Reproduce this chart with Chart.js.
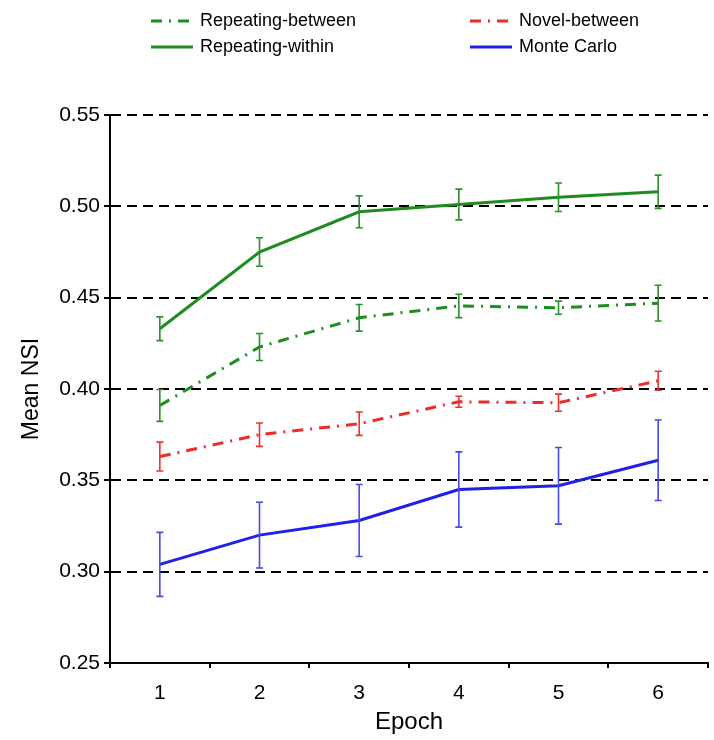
<!DOCTYPE html>
<html>
<head>
<meta charset="utf-8">
<script src="https://cdn.jsdelivr.net/npm/chart.js@4.4.0/dist/chart.umd.min.js"></script>
<style>
  body { margin: 0; background: #fff; }
  #wrap { width: 714px; height: 740px; }
</style>
</head>
<body>
<div id="wrap"><canvas id="nsiChart" width="714" height="740"></canvas></div>
<script>
// Data
const epochs = ['1', '2', '3', '4', '5', '6'];
const yTicks = [0.25, 0.30, 0.35, 0.40, 0.45, 0.50, 0.55];

const repeatingBetween    = [0.391, 0.423, 0.439, 0.4455, 0.4445, 0.447];
const repeatingBetweenErr = [0.0087, 0.0074, 0.0073, 0.0064, 0.0036, 0.0098];
const novelBetween        = [0.363, 0.375, 0.381, 0.393, 0.3925, 0.4045];
const novelBetweenErr     = [0.0079, 0.0064, 0.0064, 0.003, 0.0047, 0.0052];
const repeatingWithin     = [0.433, 0.475, 0.497, 0.501, 0.505, 0.508];
const repeatingWithinErr  = [0.0065, 0.0078, 0.0087, 0.0084, 0.0078, 0.0091];
const monteCarlo          = [0.304, 0.320, 0.328, 0.345, 0.347, 0.361];
const monteCarloErr       = [0.0175, 0.018, 0.0197, 0.0206, 0.021, 0.022];

const FONT = '"Liberation Sans", Arial, Helvetica, sans-serif';
const GREEN = '#1e8c1e';
const RED = '#ee2a2a';
const BLUE = '#2020e8';
const DASHDOT = [11, 7, 2, 7];

// error bars, drawn from the y scale
const errorBars = {
    id: 'errorBars',
    afterDatasetsDraw(chart) {
        const ctx = chart.ctx;
        const y = chart.scales.y;
        chart.data.datasets.forEach((ds, i) => {
            const meta = chart.getDatasetMeta(i);
            ctx.save();
            ctx.strokeStyle = ds.errColor;
            ctx.lineWidth = 1.6;
            ctx.setLineDash([]);
            meta.data.forEach((pt, j) => {
                const v = ds.data[j], e = ds.err[j];
                const top = y.getPixelForValue(v + e);
                const bot = y.getPixelForValue(v - e);
                ctx.beginPath();
                ctx.moveTo(pt.x, top); ctx.lineTo(pt.x, bot);
                ctx.moveTo(pt.x - 3.5, top); ctx.lineTo(pt.x + 3.5, top);
                ctx.moveTo(pt.x - 3.5, bot); ctx.lineTo(pt.x + 3.5, bot);
                ctx.stroke();
            });
            ctx.restore();
        });
    }
};

// solid y axis line (the grid dash would otherwise apply to it)
const yAxisLine = {
    id: 'yAxisLine',
    afterDraw(chart) {
        const { ctx, chartArea } = chart;
        ctx.save();
        ctx.strokeStyle = '#000';
        ctx.lineWidth = 2;
        ctx.setLineDash([]);
        ctx.beginPath();
        ctx.moveTo(chartArea.left, chartArea.top);
        ctx.lineTo(chartArea.left, chartArea.bottom + 1);
        ctx.moveTo(chartArea.left - 1, chartArea.bottom);
        ctx.lineTo(chartArea.right, chartArea.bottom);
        ctx.stroke();
        ctx.restore();
    }
};

// two-column legend at the top
const topLegend = {
    id: 'topLegend',
    afterDraw(chart) {
        const ctx = chart.ctx;
        const spots = [[151, 21], [470, 21], [151, 47], [470, 47]];
        chart.data.datasets.forEach((ds, i) => {
            const [x, yy] = spots[i];
            ctx.save();
            ctx.strokeStyle = ds.borderColor;
            ctx.lineWidth = 3;
            ctx.setLineDash(ds.borderDash || []);
            ctx.beginPath();
            ctx.moveTo(x, yy); ctx.lineTo(x + 42, yy);
            ctx.stroke();
            ctx.setLineDash([]);
            ctx.fillStyle = '#000';
            ctx.font = '18px ' + FONT;
            ctx.textBaseline = 'middle';
            ctx.fillText(ds.label, x + 49, yy);
            ctx.restore();
        });
    }
};

const mkSet = (label, data, err, color, errColor, dash) => ({
    label, data, err, errColor,
    borderColor: color,
    backgroundColor: color,
    borderWidth: 3,
    borderDash: dash,
    pointRadius: 0,
    tension: 0,
    fill: false
});

new Chart(document.getElementById('nsiChart'), {
    type: 'line',
    data: {
        labels: epochs,
        datasets: [
            mkSet('Repeating-between', repeatingBetween, repeatingBetweenErr, GREEN, '#2e8f2e', DASHDOT),
            mkSet('Novel-between', novelBetween, novelBetweenErr, RED, '#e83434', DASHDOT),
            mkSet('Repeating-within', repeatingWithin, repeatingWithinErr, GREEN, '#2e8f2e', []),
            mkSet('Monte Carlo', monteCarlo, monteCarloErr, BLUE, '#4a4ae6', [])
        ]
    },
    options: {
        responsive: false,
        animation: false,
        layout: { padding: { top: 115, right: 6, bottom: 0, left: 0 } },
        plugins: {
            legend: { display: false },
            tooltip: { enabled: false }
        },
        scales: {
            x: {
                type: 'category',
                offset: true,
                grid: {
                    offset: true,
                    drawOnChartArea: false,
                    drawTicks: true,
                    tickLength: 5,
                    color: '#000',
                    lineWidth: 2
                },
                border: { display: true, color: '#000', width: 2 },
                ticks: { color: '#000', padding: 13, font: { family: FONT, size: 21 } },
                title: {
                    display: true, text: 'Epoch', color: '#000',
                    font: { family: FONT, size: 24 }, padding: { top: 0, bottom: 3 }
                },
                afterFit(scale) { scale.height = 77; }
            },
            y: {
                min: 0.25,
                max: 0.55,
                afterBuildTicks(scale) { scale.ticks = yTicks.map(v => ({ value: v })); },
                grid: {
                    color: '#000',
                    lineWidth: 2,
                    tickBorderDash: [],
                    tickLength: 6,
                    tickColor: '#000'
                },
                border: { display: true, color: '#000', width: 2, dash: [10, 6] },
                ticks: {
                    color: '#000', padding: 4,
                    font: { family: FONT, size: 21 },
                    callback: v => Number(v).toFixed(2)
                },
                title: {
                    display: true, text: 'Mean NSI', color: '#000',
                    font: { family: FONT, size: 23 }, padding: { top: 18, bottom: 0 }
                },
                afterFit(scale) { scale.width = 110; }
            }
        }
    },
    plugins: [errorBars, topLegend, yAxisLine]
});
</script>
</body>
</html>
